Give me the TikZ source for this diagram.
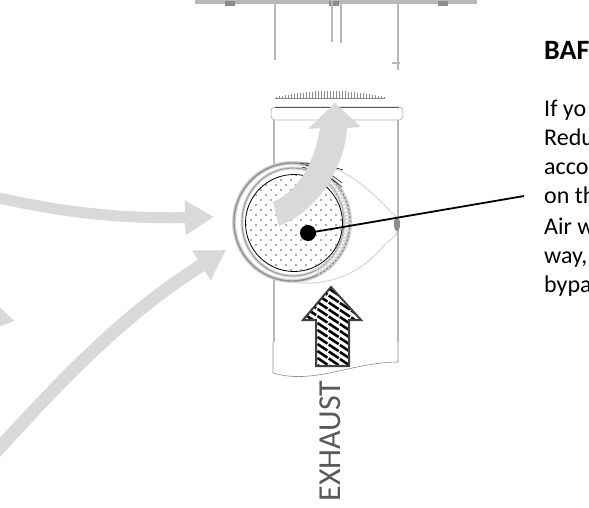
\documentclass[tikz,border=0pt]{standalone}
\usepackage{fontspec}
\setmainfont{Carlito}
\usetikzlibrary{arrows.meta,positioning,calc}
\definecolor{flow}{HTML}{D9D9D9}
\definecolor{wall}{HTML}{B8B8B8}
\definecolor{thinwall}{HTML}{8C8C8C}
\definecolor{ringgray}{HTML}{D4D4D4}
\definecolor{ringdark}{HTML}{8F8F8F}
\definecolor{capt}{HTML}{595959}
\definecolor{outline}{HTML}{404040}
\tikzset{
  flowar/.style={-{Triangle[length=29pt,width=33pt]}, draw=flow},
  pipeline/.style={draw=wall, line width=1.3pt},
  thinline/.style={draw=thinwall, line width=0.6pt},
  para/.style={anchor=base west, inner sep=0pt, font=\fontsize{24}{29}\selectfont},
  headtxt/.style={anchor=base west, inner sep=0pt, font=\fontsize{28}{32}\selectfont\bfseries}
}
\begin{document}
\begin{tikzpicture}[x=1pt,y=-1pt]
  \useasboundingbox (0,0) rectangle (589,508);
  \clip (0,0) rectangle (589,508);
  % top flange and duct
  \fill[wall] (195,0) rectangle (477,4);
  \foreach \xbolt in {230,334,443}
    \fill[thinwall] (\xbolt-5,1) rectangle (\xbolt+5,6);
  \draw[pipeline] (275,0) -- (275,60);
  \draw[pipeline] (332,0) -- (332,42);
  \draw[pipeline] (341,0) -- (341,43);
  \draw[pipeline] (398,0) -- (398,70);
  \draw[pipeline] (392,63) -- (400,63);
  \foreach \xtick in {276,279,...,384}
    \draw[thinwall, line width=0.6pt] (\xtick,{98-7*(1-((\xtick-330)/58)^2)}) -- (\xtick,98);
  \draw[thinline] (275,98) -- (385,98);
  % tee body
  \draw[pipeline] (274,120) -- (274,342);
  \draw[thinline] (273,342) -- (273,373) .. controls (300,381) and (325,374) .. (357,367)
    .. controls (372,364) and (385,362) .. (398,362) -- (398,342);
  \draw[draw=wall, line width=0.8pt, rounded corners=4pt, fill=white] (271,107) rectangle (403,120);
  \draw[draw=capt, line width=0.8pt] (275,107) -- (399,107);
  % elbow
  \draw[draw=ringgray, line width=0.9pt, fill=white] (300,163)
    .. controls (340,160) and (370,190) .. (391,212)
    .. controls (396,214) and (400,222) .. (397,232)
    .. controls (395,238) and (390,240) .. (386,243)
    .. controls (365,270) and (335,285) .. (300,283) -- cycle;
  \draw[pipeline] (398,120) -- (398,342);
  \fill[thinwall] (397,224) ellipse (3pt and 7pt);
  \draw[draw=ringgray, line width=4pt, fill=white] (292,222) ellipse (58pt and 59pt);
  \draw[draw=ringdark, line width=1.4pt] (292,222) ellipse (58pt and 59pt);
  \draw[draw=ringgray, line width=3pt] (293,222) ellipse (51pt and 54pt);
  \draw[draw=ringdark, line width=0.7pt] (293,222) ellipse (51pt and 54pt);
  \foreach \angtick in {-72,-68,...,66}
    \draw[ringgray, line width=1.4pt] ($(294,223)+(\angtick:50)$) -- ($(294,223)+(\angtick:58)$);
  \draw[black, line width=0.6pt] (300,163) .. controls (315,163) and (330,166) .. (343,170);
  \draw[black, line width=0.5pt] (302,167) .. controls (318,171) and (332,178) .. (342,187);
  \draw[black, line width=0.5pt] (306,165) .. controls (322,169) and (334,176) .. (342,183);
  % filter disc
  \node[circle, draw=black, line width=0.8pt, fill=white, minimum size=97pt, inner sep=0pt] (disc) at (294,223) {};
  \begin{scope}
    \clip (294,223) circle (48pt);
    \foreach \xdot in {0,...,10}
      \foreach \ydot in {0,...,10}
        \fill[capt] ({246+\xdot*10},{175+\ydot*10}) circle (0.8pt)
                    ({251+\xdot*10},{180+\ydot*10}) circle (0.8pt);
  \end{scope}
  % air through the tee
  \fill[flow] (273,202) .. controls (297,192) and (314,165) .. (320,128) -- (308,129) -- (335,103)
    -- (361,127) -- (347,128) .. controls (345,165) and (320,210) .. (279,226) -- cycle;
  % exhaust arrow
  \begin{scope}
    \clip (331,287) -- (361,320) -- (349,320) -- (349,366) -- (316,366) -- (316,320) -- (303,320) -- cycle;
    \fill[white] (300,285) rectangle (365,370);
    \foreach \yhatch in {-40,-33,...,90}
      \draw[black, line width=2.6pt, dash pattern=on 12pt off 1.5pt] (295,285+\yhatch) -- ++(75,50);
  \end{scope}
  \draw[draw=outline, line width=2pt] (331,287) -- (361,320) -- (349,320) -- (349,366)
    -- (316,366) -- (316,320) -- (303,320) -- cycle;
  % inlet arrows
  \coordinate (upstart) at (-5,197);
  \coordinate (upend) at (214,217);
  \coordinate (lowstart) at (-6,454);
  \coordinate (lowend) at (226,250);
  \coordinate (midstart) at (-25,313);
  \coordinate (midend) at (15,321);
  \draw[flowar, line width=11pt] (upstart) .. controls (60,212) and (120,219) .. (upend);
  \draw[flowar, line width=13pt] (lowstart) .. controls (70,370) and (130,310) .. (lowend);
  \draw[flowar, line width=11pt] (midstart) -- (midend);
  % leader
  \node[circle, fill=black, minimum size=16pt, inner sep=0pt] (dot) at (308,233) {};
  \coordinate (leaderend) at (524,196);
  \draw[black, line width=1.8pt] (dot.center) -- (leaderend);
  % texts
  \node[rotate=90, anchor=center, inner sep=0pt, text=capt, font=\fontsize{32}{32}\selectfont] (exhaust) at (330,441) {EXHAUST};
  \node[headtxt] (title) at (544,60) {BAF};
  \node[para] (l1) at (544,117) {If yo};
  \node[para] (l2) at (544,146) {Redu};
  \node[para] (l3) at (544,175) {acco};
  \node[para] (l4) at (544,204) {on th};
  \node[para] (l5) at (544,234) {Air w};
  \node[para] (l6) at (544,263) {way,};
  \node[para] (l7) at (544,292) {bypa};
\end{tikzpicture}
\end{document}
